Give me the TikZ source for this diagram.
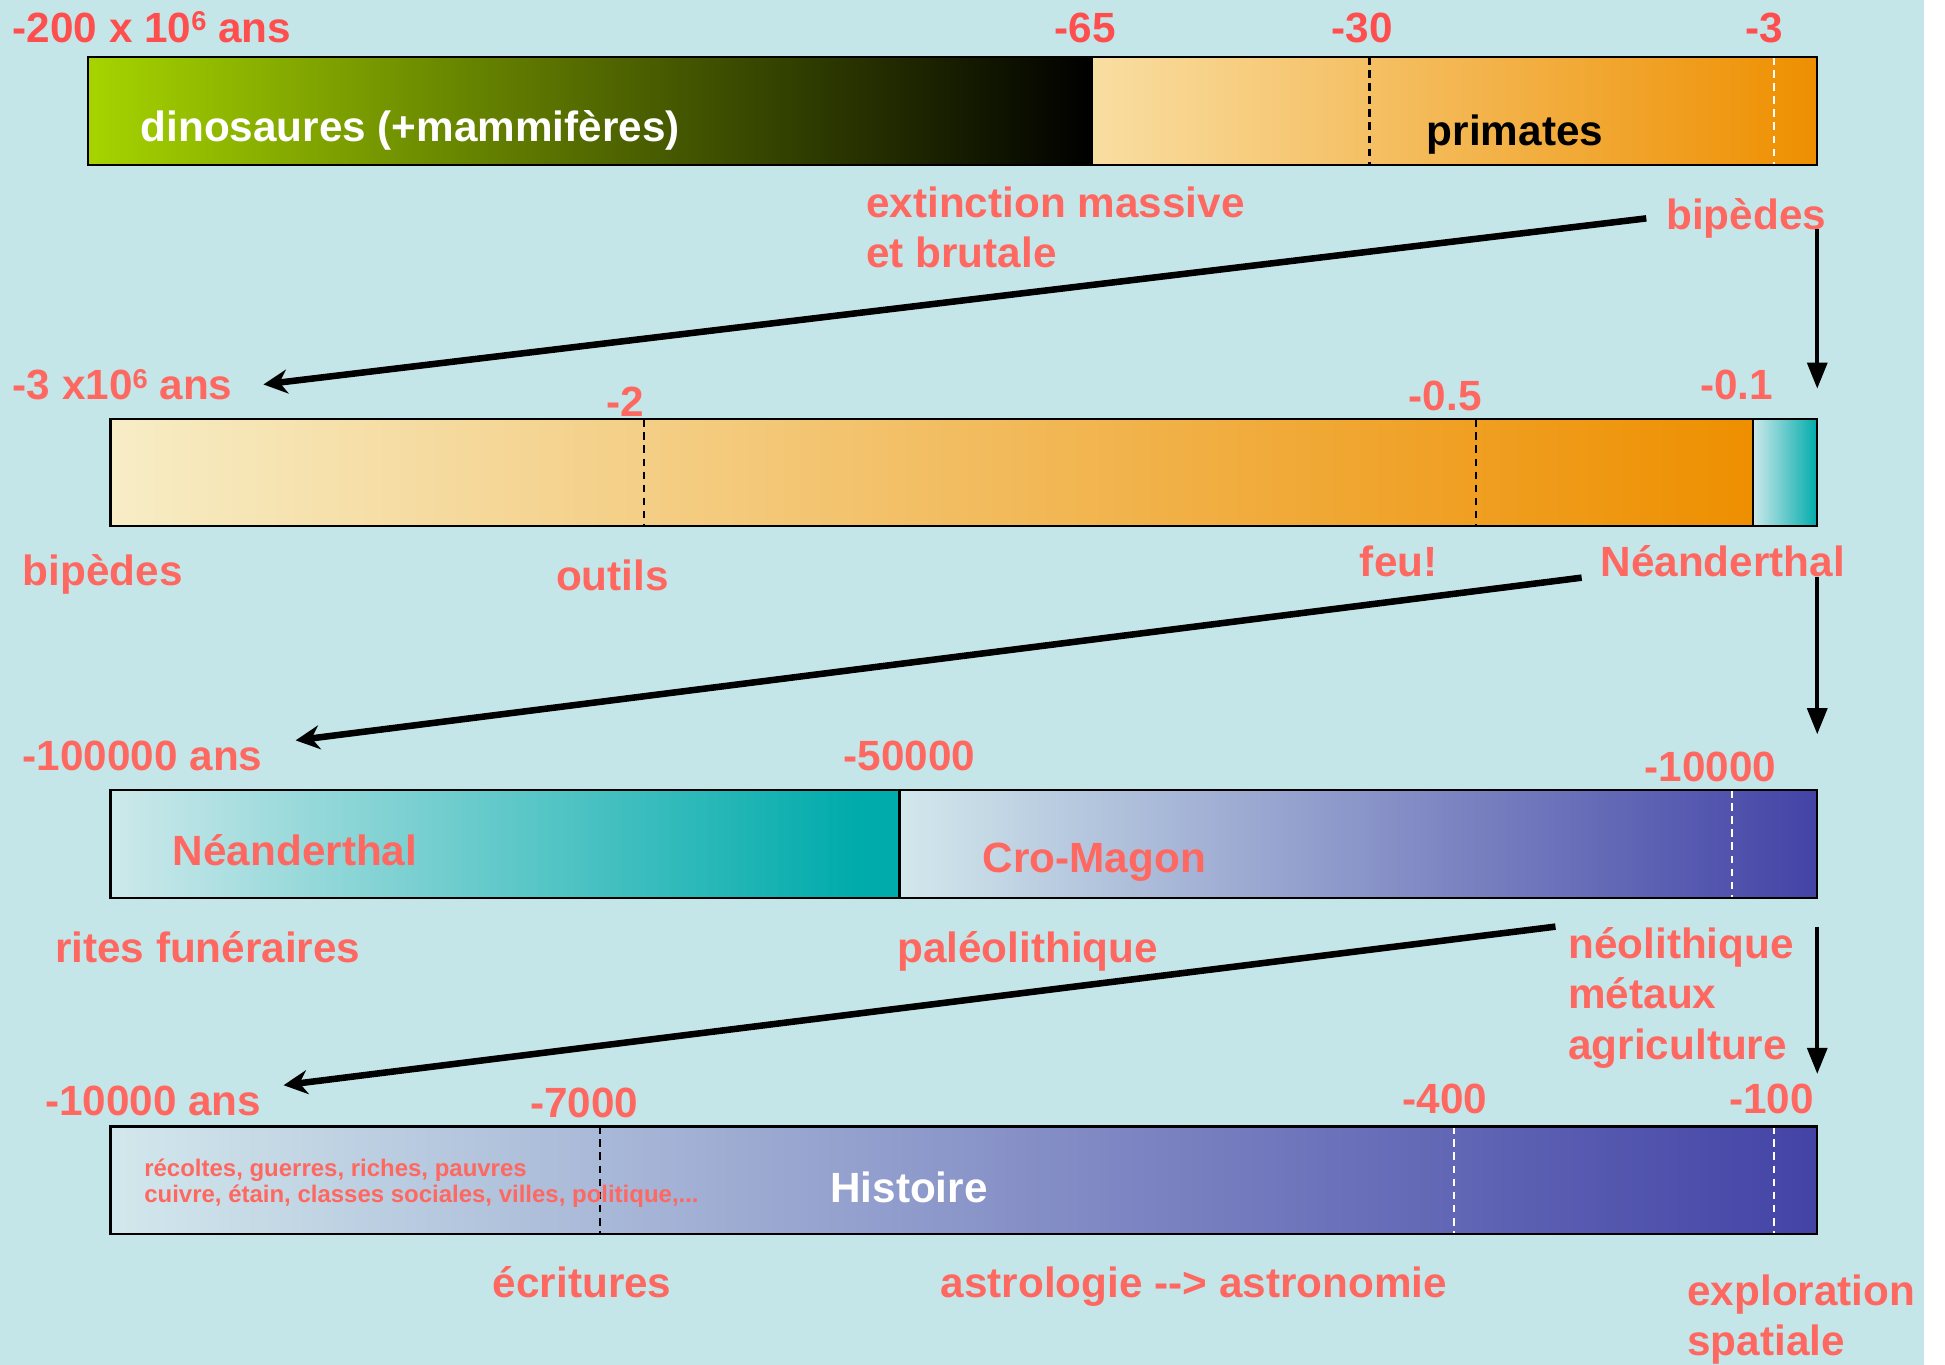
\documentclass[tikz,border=0pt]{standalone}
\usepackage{fontspec}
\setmainfont{Liberation Sans}
\usetikzlibrary{arrows.meta}
\definecolor{bgcyan}{RGB}{196,230,232}
\definecolor{agered}{RGB}{255,78,78}
\definecolor{salmon}{RGB}{255,104,96}
\definecolor{dinogreen}{RGB}{166,212,0}
\definecolor{palesand}{RGB}{249,222,162}
\definecolor{cream}{RGB}{247,237,198}
\definecolor{amber}{RGB}{238,143,0}
\definecolor{paleteal}{RGB}{205,233,235}
\definecolor{deepteal}{RGB}{0,171,171}
\definecolor{paleblue}{RGB}{210,232,236}
\definecolor{indigo}{RGB}{67,67,166}
\newcommand{\expsix}{\raisebox{0.27em}{\fontsize{12.5}{12.5}\selectfont 6}}
\begin{document}
\begin{tikzpicture}[x=0.02cm,y=-0.02cm]
\tikzstyle{every node}+=[inner sep=0pt]
\tikzstyle{bigtxt}=[font=\bfseries\fontsize{19.4}{23.3}\selectfont]
\tikzstyle{smalltxt}=[font=\bfseries\fontsize{11}{12}\selectfont,text=salmon,align=left]
\tikzstyle{agetxt}=[bigtxt,text=agered]
\tikzstyle{notetxt}=[bigtxt,text=salmon,align=left]
\tikzstyle{tickline}=[line width=1pt,dash pattern=on 3.5pt off 2.5pt]
\tikzstyle{barline}=[line width=1.1pt]
\tikzstyle{jumparrow}=[line width=3pt,-{Stealth[length=11pt,width=11pt]}]
\tikzstyle{downarrow}=[line width=2pt,-{Triangle[length=12pt,width=9pt]}]
\useasboundingbox (0,0) rectangle (1568,1100);
\fill [bgcyan] (0,0) rectangle (1551,1100);
\fill [white] (1551,0) rectangle (1568,1100);
\coordinate (bar2ne) at (1465,338);
\coordinate (bar3ne) at (1465,637);
\coordinate (bar4ne) at (1465,908);
% -200 Ma .. -3 Ma
\shade [left color=dinogreen,right color=black] (71,46) rectangle (880,133);
\shade [left color=palesand,right color=amber] (880,46) rectangle (1465,133);
\draw [tickline,black] (1104,46) -- (1104,133);
\draw [tickline,white] (1430,46) -- (1430,133);
\draw [barline] (71,46) rectangle (1465,133);
\draw [barline] (880,46) -- (880,133);
\node [agetxt,anchor=base west] (age1) at (10,34) {-200 x 10\expsix{} ans};
\node [agetxt,anchor=base] (t65) at (875,34) {-65};
\node [agetxt,anchor=base] (t30) at (1098,34) {-30};
\node [agetxt,anchor=base] (t3) at (1422,34) {-3};
\node [bigtxt,text=white,anchor=base west] (dino) at (113,114) {dinosaures (+mammifères)};
\node [bigtxt,anchor=base west] (prim) at (1150,117) {primates};
\node [notetxt,anchor=north west] (ext) at (698,150) {extinction massive\\et brutale};
\node [notetxt,anchor=base west] (bip1) at (1343,185) {bipèdes};
% -3 Ma .. -0.1 Ma
\shade [left color=cream,right color=amber] (89,338) rectangle (1413,424);
\shade [left color=paleteal,right color=deepteal] (1413,338) rectangle (1465,424);
\draw [tickline,black] (519,338) -- (519,424);
\draw [tickline,black] (1190,338) -- (1190,424);
\draw [barline] (89,338) rectangle (1465,424);
\draw [barline] (1413,338) -- (1413,424);
\node [notetxt,anchor=base west] (age2) at (10,322) {-3 x10\expsix{} ans};
\node [notetxt,anchor=base] (t2) at (504,336) {-2};
\node [notetxt,anchor=base] (t05) at (1165,331) {-0.5};
\node [notetxt,anchor=base] (t01) at (1400,322) {-0.1};
\node [notetxt,anchor=base west] (bip2) at (18,472) {bipèdes};
\node [notetxt,anchor=base west] (out) at (448,476) {outils};
\node [notetxt,anchor=base west] (feu) at (1096,465) {feu!};
\node [notetxt,anchor=base west] (nea1) at (1290,465) {Néanderthal};
% -100000 .. -10000
\shade [left color=paleteal,right color=deepteal] (89,637) rectangle (690,724);
\fill [deepteal] (690,637) rectangle (725,724);
\shade [left color=paleblue,right color=indigo] (725,637) rectangle (1465,724);
\draw [tickline,white] (1396,637) -- (1396,724);
\draw [barline] (89,637) rectangle (1465,724);
\draw [barline] (725,637) -- (725,724);
\node [notetxt,anchor=base west] (age3) at (18,621) {-100000 ans};
\node [notetxt,anchor=base] (t50k) at (733,621) {-50000};
\node [notetxt,anchor=base] (t10k) at (1379,630) {-10000};
\node [notetxt,anchor=base west] (nea2) at (139,698) {Néanderthal};
\node [notetxt,anchor=base west] (cro) at (792,703) {Cro-Magon};
\node [notetxt,anchor=base west] (rites) at (44,776) {rites funéraires};
\node [notetxt,anchor=base west] (paleo) at (723,776) {paléolithique};
\node [notetxt,anchor=north west] (neo) at (1264,747) {néolithique\\métaux\\agriculture};
% -10000 .. aujourd'hui
\shade [left color=paleblue,right color=indigo] (89,908) rectangle (1465,995);
\draw [tickline,black] (484,908) -- (484,995);
\draw [tickline,white] (1172,908) -- (1172,995);
\draw [tickline,white] (1430,908) -- (1430,995);
\draw [barline] (89,908) rectangle (1465,995);
\node [notetxt,anchor=base west] (age4) at (36,899) {-10000 ans};
\node [notetxt,anchor=base] (t7k) at (471,901) {-7000};
\node [notetxt,anchor=base] (t400) at (1165,898) {-400};
\node [notetxt,anchor=base] (t100) at (1428,898) {-100};
\node [smalltxt,anchor=north west] (misc) at (116,934) {récoltes, guerres, riches, pauvres\\cuivre, étain, classes sociales, villes, politique,...};
\node [bigtxt,text=white,anchor=base west] (hist) at (669,969) {Histoire};
\node [notetxt,anchor=base west] (ecr) at (397,1046) {écritures};
\node [notetxt,anchor=base west] (astro) at (758,1046) {astrologie -{}-> astronomie};
\node [notetxt,anchor=north west] (expl) at (1360,1027) {exploration\\spatiale};
% zooms
\draw [jumparrow] ([xshift=-9pt]bip1.west) -- ([xshift=14pt]age2.east);
\draw [downarrow] (bip1.base -| bar2ne) -- ([yshift=14pt]bar2ne);
\draw [jumparrow] ([xshift=-8.5pt]nea1.south west) -- ([xshift=15pt]age3.north east);
\draw [downarrow] (nea1.base -| bar3ne) -- ([yshift=25.6pt]bar3ne);
\draw [jumparrow] ([xshift=-5.7pt]neo.north west) -- ([xshift=10pt]age4.north east);
\draw [downarrow] (neo.north -| bar4ne) -- ([yshift=24pt]bar4ne);
\end{tikzpicture}
\end{document}
